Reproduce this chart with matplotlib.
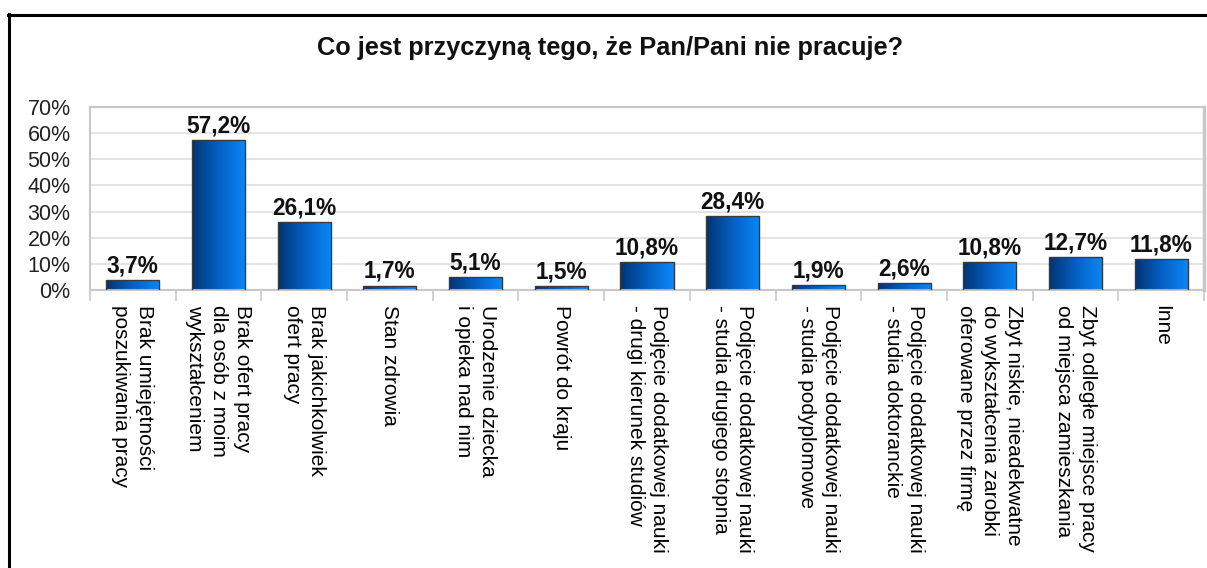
import numpy as np
import matplotlib
matplotlib.use("Agg")
import matplotlib.pyplot as plt
from matplotlib.lines import Line2D
from matplotlib.colors import LinearSegmentedColormap
from matplotlib.ticker import FuncFormatter

title = "Co jest przyczyną tego, że Pan/Pani nie pracuje?"
categories = [
    "Brak umiejętności\nposzukiwania pracy",
    "Brak ofert pracy\ndla osób z moim\nwykształceniem",
    "Brak jakichkolwiek\nofert pracy",
    "Stan zdrowia",
    "Urodzenie dziecka\ni opieka nad nim",
    "Powrót do kraju",
    "Podjęcie dodatkowej nauki\n- drugi kierunek studiów",
    "Podjęcie dodatkowej nauki\n- studia drugiego stopnia",
    "Podjęcie dodatkowej nauki\n- studia podyplomowe",
    "Podjęcie dodatkowej nauki\n- studia doktoranckie",
    "Zbyt niskie, nieadekwatne\ndo wykształcenia zarobki\noferowane przez firmę",
    "Zbyt odległe miejsce pracy\nod miejsca zamieszkania",
    "Inne",
]
values = [3.7, 57.2, 26.1, 1.7, 5.1, 1.5, 10.8, 28.4, 1.9, 2.6, 10.8, 12.7, 11.8]
yticks = [0, 10, 20, 30, 40, 50, 60, 70]

plt.rcParams['font.family'] = ['Liberation Sans', 'DejaVu Sans']

W, H = 1207, 568
fig = plt.figure(figsize=(W / 100, H / 100), dpi=100)
fig.patch.set_facecolor('white')

ax = fig.add_axes([90 / W, 1 - 290 / H, (1204 - 90) / W, (290 - 107) / H])
x = np.arange(len(values))
bars = ax.bar(x, values, width=0.62, color='none', edgecolor='#3a3a3a',
              linewidth=1.0, zorder=3)

cmap = LinearSegmentedColormap.from_list('g', ['#013472', '#0560c4', '#0a88f8'])
grad = np.linspace(0, 1, 256).reshape(1, -1)
for b, v in zip(bars, values):
    x0, w, h = b.get_x(), b.get_width(), b.get_height()
    im = ax.imshow(grad, cmap=cmap, aspect='auto', extent=[x0, x0 + w, 0, h],
                   zorder=2, interpolation='bilinear')
    im.set_clip_path(b)
    ax.text(x0 + w / 2, h + 1.0, f"{v:.1f}%".replace('.', ','),
            ha='center', va='bottom', fontsize=16.3, fontweight='bold', color='#111111')

ax.set_xlim(-0.5, len(values) - 0.5)
ax.set_ylim(0, 70)
ax.set_yticks(yticks)
ax.yaxis.set_major_formatter(FuncFormatter(lambda v, p: f"{int(v)}%"))
ax.tick_params(axis='y', length=0, pad=14, labelsize=15.5, labelcolor='#222222')
ax.grid(axis='y', color='#e4e4e4', linewidth=1.5, zorder=0)
ax.set_axisbelow(True)

ax.set_xticks(np.arange(len(values) + 1) - 0.5, minor=False)
ax.set_xticklabels([])
ax.tick_params(axis='x', which='major', length=8, color='#c8c8c8', width=1.2)
ax.set_xticks(x, minor=True)
ax.set_xticklabels(categories, minor=True, rotation=-90, ha='center', va='top',
                   fontsize=15, multialignment='left', linespacing=1.32)
ax.tick_params(axis='x', which='minor', length=0, pad=11)

for s in ['left', 'top', 'bottom']:
    ax.spines[s].set_color('#c8c8c8')
    ax.spines[s].set_linewidth(1.5)
ax.spines['right'].set_color('#c8c8c8')
ax.spines['right'].set_linewidth(2.5)

fig.text(610 / W, 1 - 48 / H, title, ha='center', va='center',
         fontsize=18.3, fontweight='bold', color='#111111')

fig.add_artist(Line2D([9 / W, 9 / W], [0, 1 - 14 / H], color='black', linewidth=2.2,
                      transform=fig.transFigure))
fig.add_artist(Line2D([8 / W, 1], [1 - 15 / H, 1 - 15 / H], color='black', linewidth=2.2,
                      transform=fig.transFigure))

fig.savefig('out.png', dpi=100)
